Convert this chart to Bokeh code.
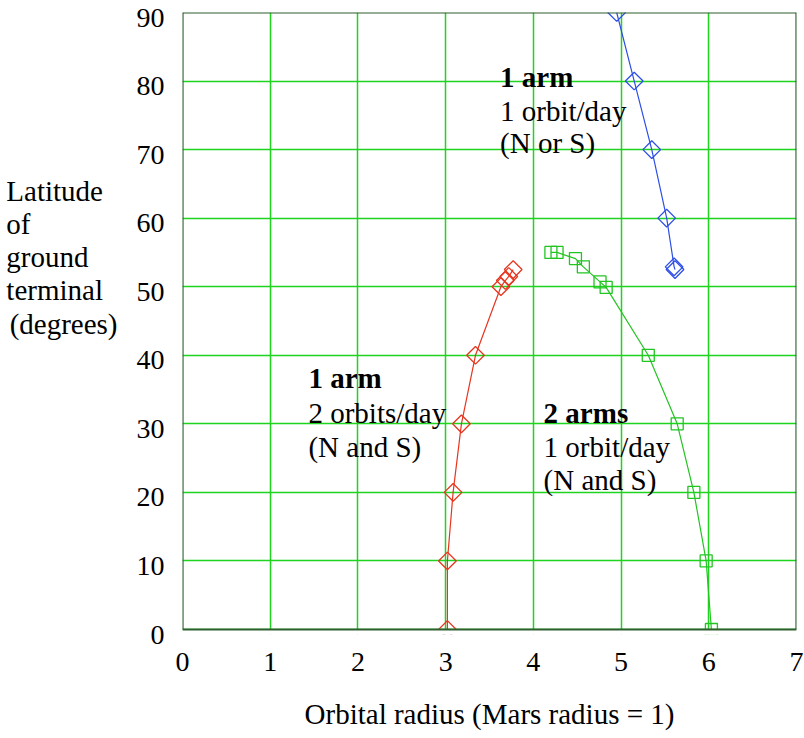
from bokeh.plotting import figure
from bokeh.models import Range1d, FixedTicker, LinearAxis
from bokeh.core.properties import value
from bokeh.embed import file_html
from bokeh.resources import INLINE

# Data
red_x = [3.02, 3.02, 3.085, 3.18, 3.34, 3.63, 3.68, 3.72, 3.77]
red_y = [0, 10, 20, 30, 40, 50, 50.9, 51.5, 52.5]

green_x = [4.20, 4.27, 4.48, 4.57, 4.76, 4.83, 5.31, 5.64, 5.83, 5.97, 6.03]
green_y = [55, 55, 54.1, 52.9, 50.7, 49.9, 40, 30, 20, 10, 0]

blue_x = [4.95, 5.15, 5.35, 5.52, 5.605, 5.615]
blue_y = [90, 80, 70, 60, 52.9, 52.5]

x_ticks = [0, 1, 2, 3, 4, 5, 6, 7]
y_ticks = [0, 10, 20, 30, 40, 50, 60, 70, 80, 90]

FONT = "Liberation Serif"
FS = "29px"
GRID = "#1ed41e"
FRAME = "#2f5f2f"
RED = "#e6361f"
GREEN = "#22c422"
BLUE = "#2d4fe6"

LAB_SHIFT = 0.73  # tick labels sit a little below their grid lines
NB = "\u00a0"

p = figure(width=804, height=738, output_backend="svg", toolbar_location=None,
           x_range=Range1d(0, 7), y_range=Range1d(-LAB_SHIFT, 90),
           min_border_left=182, min_border_right=8, min_border_top=12,
           min_border_bottom=104)
p.extra_y_ranges = {"lab": Range1d(0, 90 + LAB_SHIFT)}

p.outline_line_color = None
p.yaxis[0].visible = False

yax = LinearAxis(y_range_name="lab", ticker=FixedTicker(ticks=y_ticks))
p.add_layout(yax, "left")

for ax in (p.xaxis[0], yax):
    ax.axis_line_color = None
    ax.major_tick_line_color = None
    ax.minor_tick_line_color = None
    ax.major_label_text_font = FONT
    ax.major_label_text_font_size = "28px"
    ax.major_label_text_font_style = "normal"
    ax.major_label_text_color = "black"
    ax.axis_label_text_font = FONT
    ax.axis_label_text_font_size = FS
    ax.axis_label_text_font_style = "normal"
    ax.axis_label_text_color = "black"

p.xaxis[0].ticker = FixedTicker(ticks=x_ticks)
p.xaxis[0].major_label_standoff = 12
p.xaxis[0].axis_label = "Orbital radius (Mars radius = 1)"
p.xaxis[0].axis_label_standoff = 24

# horizontal, left-justified y title (lines padded to equal width)
ylab = ["Latitude" + NB * 2, "of" + NB * 12, "ground" + NB * 4,
        "terminal" + NB * 2, "(degrees)", NB, NB, NB, NB]
yax.major_label_standoff = 12
yax.axis_label = "\n".join(ylab)
yax.axis_label_orientation = "horizontal"
yax.axis_label_text_align = "left"
yax.axis_label_standoff = 16
yax.axis_label_text_line_height = 1.035

p.xgrid.grid_line_color = GRID
p.ygrid.grid_line_color = GRID
p.xgrid.grid_line_width = 1.5
p.ygrid.grid_line_width = 1.5
p.xgrid.ticker = FixedTicker(ticks=x_ticks)
p.ygrid.ticker = FixedTicker(ticks=y_ticks)

# series
p.line(red_x, red_y, line_color=RED, line_width=1.2)
p.scatter(red_x, red_y, marker="square", size=12.5, angle=0.785398,
          fill_color=None, line_color=RED, line_width=1.3)

p.line(green_x, green_y, line_color=GREEN, line_width=1.2)
p.scatter(green_x, green_y, marker="square", size=12, fill_color=None,
          line_color=GREEN, line_width=1.3)

p.line(blue_x, blue_y, line_color=BLUE, line_width=1.2)
p.scatter(blue_x, blue_y, marker="square", size=12.5, angle=0.785398,
          fill_color=None, line_color=BLUE, line_width=1.3)

# blank strip below the zero line (the plot box ends at 0)
p.quad(left=[-1], right=[8], bottom=[-5], top=[0], fill_color="white",
       line_color=None)

# plot frame (dark green box)
p.segment(x0=[0, 0, 0, 7], y0=[0, 90, 0, 0], x1=[7, 7, 0, 7], y1=[0, 90, 90, 90],
          line_color=FRAME, line_width=2.2)

# annotations inside the plot
def block(x, ys, lines):
    p.text(x=[x], y=[ys[0]], text=[lines[0]], text_font=value(FONT),
           text_font_size=FS, text_font_style="bold",
           text_baseline="middle", text_align="left", text_color="black")
    p.text(x=[x, x], y=ys[1:], text=lines[1:], text_font=value(FONT),
           text_font_size=FS, text_baseline="middle", text_align="left",
           text_color="black")

block(3.62, [80.6, 75.7, 71.0], ["1 arm", "1 orbit/day", "(N or S)"])
block(1.436, [36.65, 31.55, 26.6], ["1 arm", "2 orbits/day", "(N and S)"])
block(4.117, [31.55, 26.6, 21.8], ["2 arms", "1 orbit/day", "(N and S)"])

open("out.html", "w").write(file_html(p, INLINE))
